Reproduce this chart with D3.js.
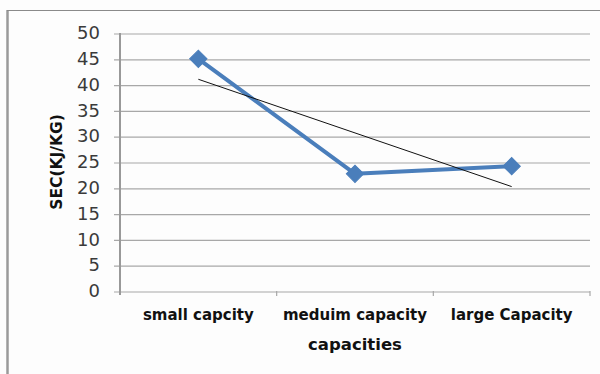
<!DOCTYPE html>
<html>
<head>
<meta charset="utf-8">
<script src="https://cdn.jsdelivr.net/npm/d3@7"></script>
<style>
  html, body { margin: 0; padding: 0; background: #fdfdfd; }
  svg { display: block; }
</style>
</head>
<body>
<div id="chart"></div>
<script>
// Specific energy consumption by plant capacity
const categories = ["small capcity", "meduim capacity", "large Capacity"];
const secValues = [45, 22.7, 24.2];
const yTicks = [0, 5, 10, 15, 20, 25, 30, 35, 40, 45, 50];
const xTitle = "capacities";
const yTitle = "SEC(KJ/KG)";

const W = 600, H = 374;
const plot = { left: 120, right: 590, top: 33, bottom: 291 };

const svg = d3.select("#chart").append("svg")
  .attr("width", W).attr("height", H);

// chart frame (left and top edges)
svg.append("rect").attr("x", 0).attr("y", 0).attr("width", W).attr("height", H).attr("fill", "#fdfdfd");
svg.append("line").attr("x1", 7.5).attr("x2", 7.5).attr("y1", 10).attr("y2", H)
  .attr("stroke", "#9a9a9a").attr("stroke-width", 2.5);
svg.append("line").attr("x1", 7).attr("x2", W).attr("y1", 10.5).attr("y2", 10.5)
  .attr("stroke", "#8a8a8a").attr("stroke-width", 1.2);

const x = d3.scaleBand().domain(categories).range([plot.left, plot.right]);
const y = d3.scaleLinear().domain([0, 50]).range([plot.bottom, plot.top]);

// horizontal gridlines with outward ticks
const yAxis = d3.axisLeft(y).tickValues(yTicks)
  .tickSize(-(plot.right - plot.left + 6)).tickPadding(14).tickFormat(d3.format("d"));
const gy = svg.append("g").attr("transform", `translate(${plot.left - 6},0)`).call(yAxis);
gy.select(".domain").remove();
gy.selectAll(".tick line").attr("stroke", "#a8a8a8").attr("stroke-width", 1.2)
  .attr("transform", "translate(0,0.5)");
gy.selectAll(".tick text")
  .attr("font-family", "DejaVu Sans, sans-serif").attr("font-size", 18)
  .attr("fill", "#3a3a3a").attr("x", -14);

// vertical axis line
svg.append("line").attr("x1", plot.left).attr("x2", plot.left)
  .attr("y1", plot.top).attr("y2", plot.bottom + 4)
  .attr("stroke", "#999").attr("stroke-width", 2);

// category axis
const xAxis = d3.axisBottom(x).tickSize(0).tickPadding(0);
const gx = svg.append("g").attr("transform", `translate(0,${plot.bottom})`).call(xAxis);
gx.select(".domain").remove();
gx.selectAll(".tick text")
  .attr("font-family", "DejaVu Sans, sans-serif").attr("font-weight", "bold")
  .attr("font-size", 15).attr("fill", "#111").attr("dy", 0).attr("y", 29);
// band boundary tick marks
const bounds = categories.map(c => x(c)).concat([plot.right]);
svg.append("g").selectAll("line").data(bounds.slice(1)).join("line")
  .attr("x1", d => d).attr("x2", d => d)
  .attr("y1", plot.bottom).attr("y2", plot.bottom + 5)
  .attr("stroke", "#a8a8a8").attr("stroke-width", 1.2);

// axis titles
svg.append("text").attr("x", (plot.left + plot.right) / 2).attr("y", 350)
  .attr("text-anchor", "middle").attr("font-family", "DejaVu Sans, sans-serif")
  .attr("font-weight", "bold").attr("font-size", 16.5).attr("fill", "#111").text(xTitle);
svg.append("text").attr("transform", `translate(62,${(plot.top + plot.bottom) / 2}) rotate(-90)`)
  .attr("text-anchor", "middle").attr("font-family", "DejaVu Sans, sans-serif")
  .attr("font-weight", "bold").attr("font-size", 15.5).attr("fill", "#111").text(yTitle);

const cx = c => x(c) + x.bandwidth() / 2;
const pts = categories.map((c, i) => ({ c, v: secValues[i], i: i + 1 }));

// linear trend line over the series
const n = pts.length;
const mx = d3.mean(pts, p => p.i), my = d3.mean(pts, p => p.v);
const slope = d3.sum(pts, p => (p.i - mx) * (p.v - my)) / d3.sum(pts, p => (p.i - mx) ** 2);
const icpt = my - slope * mx;
const trend = [pts[0], pts[n - 1]].map(p => ({ c: p.c, v: icpt + slope * p.i }));

// series line
svg.append("path").datum(pts)
  .attr("d", d3.line().x(p => cx(p.c)).y(p => y(p.v)))
  .attr("fill", "none").attr("stroke", "#4a7ebb").attr("stroke-width", 4)
  .attr("stroke-linejoin", "round");

svg.append("path").datum(trend)
  .attr("d", d3.line().x(p => cx(p.c)).y(p => y(p.v)))
  .attr("fill", "none").attr("stroke", "#111").attr("stroke-width", 1);

// diamond markers
svg.append("g").selectAll("path").data(pts).join("path")
  .attr("d", d3.symbol(d3.symbolSquare, 150))
  .attr("transform", p => `translate(${cx(p.c)},${y(p.v)}) rotate(45)`)
  .attr("fill", "#4a7ebb").attr("stroke", "#4a7ebb").attr("stroke-width", 1);
</script>
</body>
</html>
